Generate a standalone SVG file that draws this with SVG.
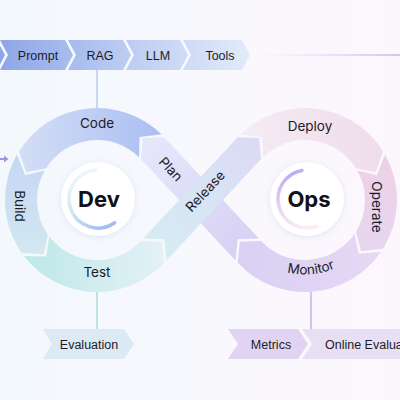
<svg xmlns="http://www.w3.org/2000/svg" width="400" height="400" viewBox="0 0 400 400">
<defs>
<style>
.lbl{font-family:"Liberation Sans",Arial,sans-serif;font-size:12.5px;fill:#1c1c28;text-anchor:middle}
.seg{font-family:Inter,"Noto Sans",sans-serif;font-size:13.5px;fill:#1c1c28;text-anchor:middle;dominant-baseline:central}
.core{font-family:Inter,"Noto Sans",sans-serif;font-size:22px;font-weight:700;fill:#111118;text-anchor:middle;dominant-baseline:central}
.conn{fill:none;stroke-width:1.5}
</style>
<linearGradient id="bg" x1="0" y1="0" x2="1" y2="0">
<stop offset="0" stop-color="#f3f8fd"/><stop offset="0.5" stop-color="#f8f8fd"/><stop offset="1" stop-color="#fcf7fc"/>
</linearGradient>
<linearGradient id="gTop" gradientUnits="userSpaceOnUse" x1="0" y1="0" x2="255" y2="0">
<stop offset="0" stop-color="#8ea6e7"/><stop offset="0.5" stop-color="#bccdf2"/><stop offset="1" stop-color="#e4ecfa"/>
</linearGradient>
<linearGradient id="gCode" gradientUnits="userSpaceOnUse" x1="20" y1="0" x2="165" y2="0">
<stop offset="0" stop-color="#d3def7"/><stop offset="1" stop-color="#a9bdf0"/>
</linearGradient>
<linearGradient id="gBuild" gradientUnits="userSpaceOnUse" x1="0" y1="150" x2="0" y2="255">
<stop offset="0" stop-color="#c5d5f4"/><stop offset="1" stop-color="#d2e8f1"/>
</linearGradient>
<linearGradient id="gTest" gradientUnits="userSpaceOnUse" x1="25" y1="0" x2="165" y2="0">
<stop offset="0" stop-color="#bde8e8"/><stop offset="1" stop-color="#e4f1f7"/>
</linearGradient>
<linearGradient id="gRel" gradientUnits="userSpaceOnUse" x1="145" y1="255" x2="260" y2="140">
<stop offset="0" stop-color="#d4eef2"/><stop offset="1" stop-color="#dcdaf6"/>
</linearGradient>
<linearGradient id="gPlan" gradientUnits="userSpaceOnUse" x1="145" y1="140" x2="260" y2="255">
<stop offset="0" stop-color="#e6e8fa"/><stop offset="1" stop-color="#d5cff4"/>
</linearGradient>
<linearGradient id="gDep" gradientUnits="userSpaceOnUse" x1="240" y1="0" x2="385" y2="0">
<stop offset="0" stop-color="#f4ecf4"/><stop offset="1" stop-color="#f0dcea"/>
</linearGradient>
<linearGradient id="gOp" gradientUnits="userSpaceOnUse" x1="0" y1="155" x2="0" y2="250">
<stop offset="0" stop-color="#eed0e6"/><stop offset="1" stop-color="#e6d6f0"/>
</linearGradient>
<linearGradient id="gMon" gradientUnits="userSpaceOnUse" x1="380" y1="0" x2="238" y2="0">
<stop offset="0" stop-color="#e6d8f4"/><stop offset="1" stop-color="#d9d0f4"/>
</linearGradient>
<linearGradient id="gDevRing" gradientUnits="userSpaceOnUse" x1="85" y1="170" x2="115" y2="225">
<stop offset="0" stop-color="#eef6fa"/><stop offset="0.5" stop-color="#cfe8ee"/><stop offset="1" stop-color="#9fbaef"/>
</linearGradient>
<linearGradient id="gOpsRing" gradientUnits="userSpaceOnUse" x1="300" y1="170" x2="312" y2="228">
<stop offset="0" stop-color="#bdacf0"/><stop offset="0.6" stop-color="#ead8f0"/><stop offset="1" stop-color="#f8eef4"/>
</linearGradient>
<linearGradient id="gLine" gradientUnits="userSpaceOnUse" x1="258" y1="0" x2="400" y2="0">
<stop offset="0" stop-color="#d8cff4" stop-opacity="0"/><stop offset="1" stop-color="#c2b4f0"/>
</linearGradient>
<filter id="glow" x="-50%" y="-50%" width="200%" height="200%">
<feDropShadow dx="0" dy="1" stdDeviation="3" flood-color="#aab4dc" flood-opacity="0.3"/>
</filter>
<path id="monArc" d="M252.32,252.68 A74.5,74.5 0 0 0 366.03,242.73"/>
</defs>

<rect width="400" height="400" fill="url(#bg)"/>

<g id="connectors">
<line class="conn" x1="97" y1="70" x2="97" y2="108" stroke="#bccbee"/>
<line class="conn" x1="97" y1="292" x2="97" y2="329" stroke="#a9dcd8"/>
<line class="conn" x1="311" y1="292" x2="311" y2="329" stroke="#c2b2ee"/>
<line class="conn" x1="258" y1="55" x2="400" y2="55" stroke="url(#gLine)" stroke-width="2"/>
<g id="in-arrow">
<line x1="0" y1="159" x2="5" y2="159" stroke="#a58ee8" stroke-width="2"/>
<path d="M4,155.5 L8.5,159 L4,162.5 Z" fill="#a58ee8"/>
</g>
</g>

<g id="pipeline">
<g id="chev-prev"><path d="M-10,40 L-3,40 L5,55 L-3,70 L-10,70 Z" fill="url(#gTop)"/></g>
<g id="chev-prompt"><path d="M0,40 L65,40 L73,55 L65,70 L0,70 L8,55 Z" fill="url(#gTop)"/><text class="lbl" x="38" y="59.5">Prompt</text></g>
<g id="chev-rag"><path d="M68,40 L123,40 L131,55 L123,70 L68,70 L76,55 Z" fill="url(#gTop)"/><text class="lbl" x="100" y="59.5">RAG</text></g>
<g id="chev-llm"><path d="M126,40 L180,40 L188,55 L180,70 L126,70 L134,55 Z" fill="url(#gTop)"/><text class="lbl" x="158" y="59.5">LLM</text></g>
<g id="chev-tools"><path d="M183,40 L242,40 L250,55 L242,70 L183,70 L191,55 Z" fill="url(#gTop)"/><text class="lbl" x="220" y="59.5">Tools</text></g>
</g>

<g id="seg-plan"><path d="M258.90,238.55 L164.23,137.20 L142.98,137.89 L140.85,159.04 L235.52,260.39 L237.65,239.24 Z" fill="url(#gPlan)"/><text class="seg" transform="translate(171,169) rotate(47)">Plan</text></g>
<g id="seg-release"><path d="M166.48,260.39 L261.15,159.04 L259.02,137.89 L237.77,137.20 L143.10,238.55 L164.35,239.24 Z" fill="url(#gRel)"/><text class="seg" transform="translate(205,191) rotate(-47)">Release</text></g>
<g id="seg-code"><path d="M161.45,134.35 A92,92 0 0 0 18.98,151.25 L26.29,172.15 L46.12,168.21 A60,60 0 0 1 139.03,157.18 L139.45,136.96 Z" fill="url(#gCode)"/><text class="seg" x="97" y="123">Code</text></g>
<g id="seg-build"><path d="M16.92,154.70 A92,92 0 0 0 21.63,252.77 L43.73,254.21 L47.85,234.42 A60,60 0 0 1 44.78,170.46 L25.14,175.26 Z" fill="url(#gBuild)"/><text class="seg" transform="translate(20,206) rotate(90)">Build</text></g>
<g id="seg-test"><path d="M24.01,256.01 A92,92 0 0 0 164.23,262.80 L162.10,241.65 L140.85,240.96 A60,60 0 0 1 49.40,236.53 L46.15,256.48 Z" fill="url(#gTest)"/><text class="seg" x="97" y="272">Test</text></g>
<g id="seg-deploy"><path d="M240.56,134.34 A92,92 0 0 1 383.02,151.25 L375.71,172.15 L355.88,168.21 A60,60 0 0 0 262.98,157.18 L262.56,136.95 Z" fill="url(#gDep)"/><text class="seg" x="310" y="126">Deploy</text></g>
<g id="seg-operate"><path d="M385.08,154.70 A92,92 0 0 1 383.02,248.75 L361.03,251.35 L355.88,231.79 A60,60 0 0 0 357.22,170.46 L376.86,175.26 Z" fill="url(#gOp)"/><text class="seg" transform="translate(377,207) rotate(90)">Operate</text></g>
<g id="seg-monitor"><path d="M380.82,252.11 A92,92 0 0 1 237.77,262.80 L239.90,241.65 L261.15,240.96 A60,60 0 0 0 354.45,233.98 L358.74,253.74 Z" fill="url(#gMon)"/><text class="seg" style="dominant-baseline:auto"><textPath href="#monArc" startOffset="50%">Monitor</textPath></text></g>

<g id="dev">
<circle cx="98" cy="199" r="37" fill="#ffffff" filter="url(#glow)"/>
<path d="M95.47,170.11 A29,29 0 1 0 114.63,222.76" fill="none" stroke="url(#gDevRing)" stroke-width="3.5" stroke-linecap="round"/>
<text class="core" x="99" y="199">Dev</text>
</g>
<g id="ops">
<circle cx="307" cy="199" r="37" fill="#ffffff" filter="url(#glow)"/>
<path d="M301.96,170.44 A29,29 0 1 0 316.92,226.25" fill="none" stroke="url(#gOpsRing)" stroke-width="3.5" stroke-linecap="round"/>
<text class="core" x="309" y="199">Ops</text>
</g>

<g id="chev-eval"><path d="M43,329 L124,329 L134,344 L124,359 L43,359 L52,344 Z" fill="#dbeaf4"/><text class="lbl" x="89" y="348.5">Evaluation</text></g>
<g id="chev-metrics"><path d="M228,329 L298,329 L308,344 L298,359 L228,359 L238,344 Z" fill="#e0d4f2"/><text class="lbl" x="271" y="348.5">Metrics</text></g>
<g id="chev-online"><path d="M302,329 L410,329 L410,359 L302,359 L312,344 Z" fill="#e8dff5"/><text class="lbl" x="325" y="348.5" style="text-anchor:start">Online Evaluation</text></g>
</svg>
